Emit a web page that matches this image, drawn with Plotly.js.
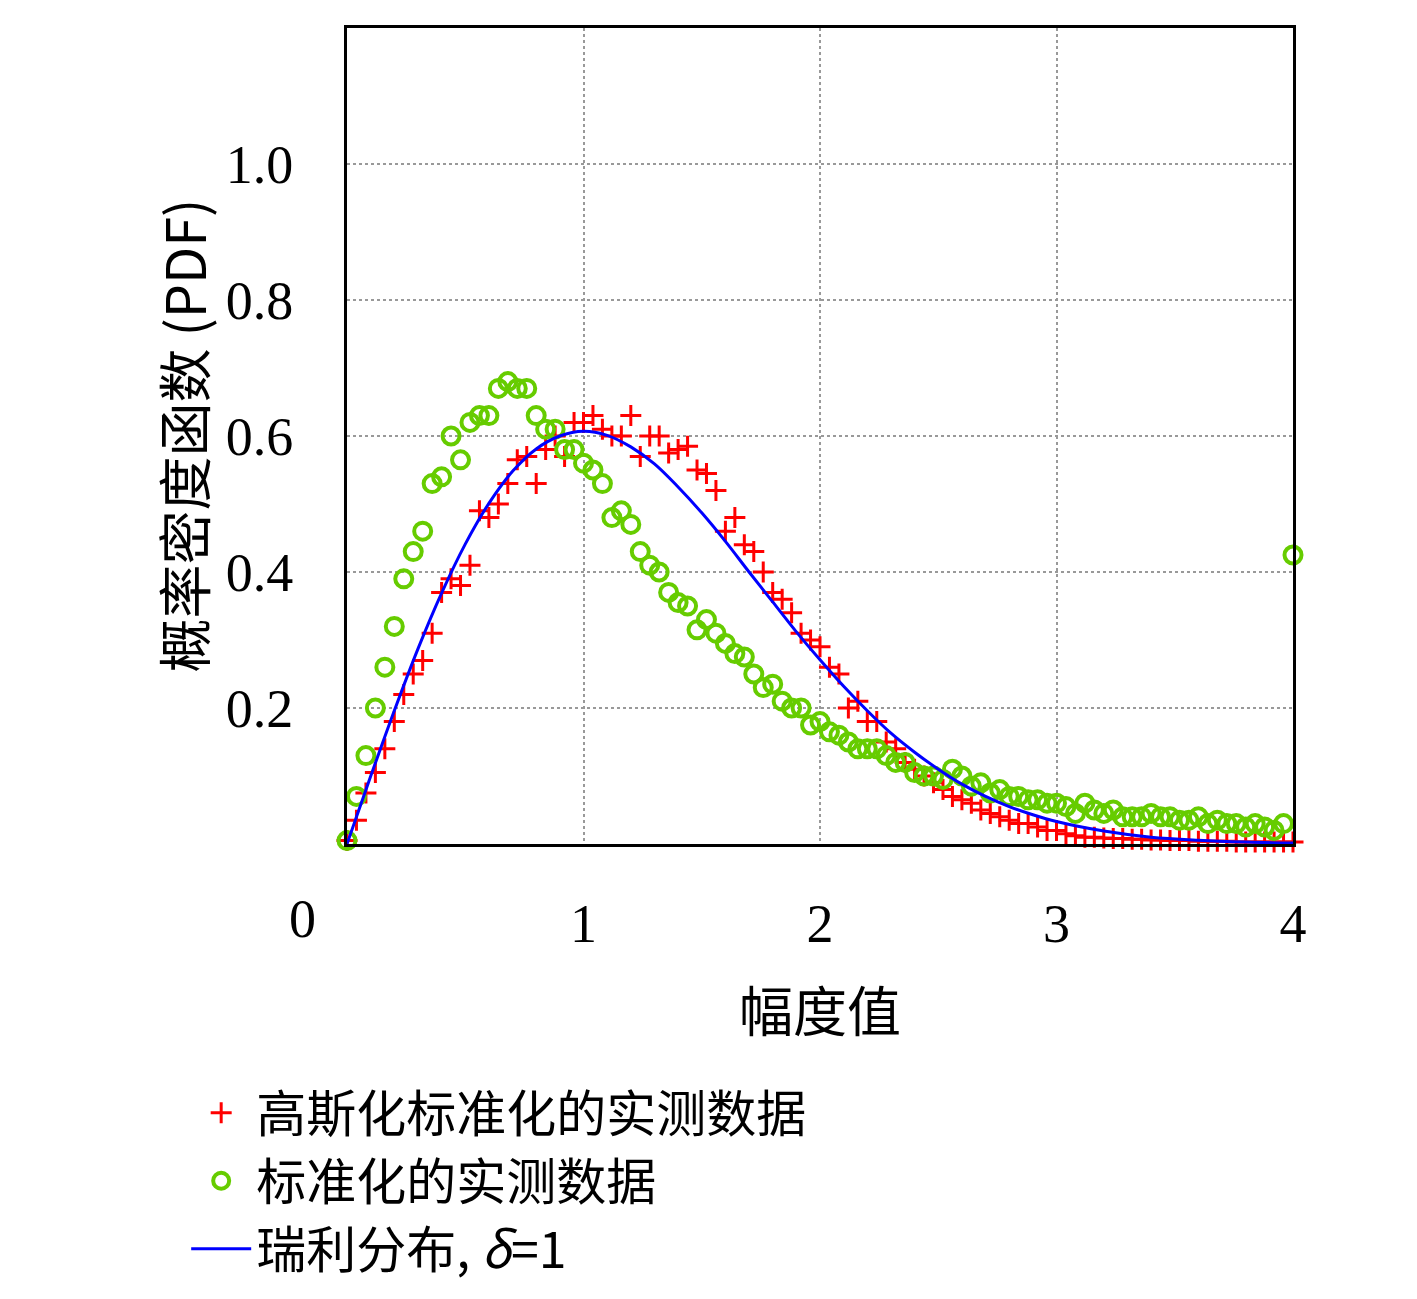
<!DOCTYPE html>
<html>
<head>
<meta charset="utf-8">
<script src="https://cdn.plot.ly/plotly-3.0.1.min.js"></script>
<style>body{margin:0;background:#fff}</style>
</head>
<body>
<div id="chart" style="width:1417px;height:1299px"></div>
<script>
// x values shared by both measured series (step 0.04)
var xMeas = [];
for (var i = 0; i <= 100; i++) xMeas.push(+(i * 0.04).toFixed(2));

// 高斯化标准化的实测数据
var redY = [0.005,0.035,0.075,0.105,0.14,0.18,0.22,0.25,0.27,0.31,0.37,0.39,0.38,0.41,0.49,0.48,0.5,0.53,0.565,0.57,
  0.53,0.58,0.6,0.57,0.62,0.62,0.63,0.61,0.6,0.6,0.63,0.57,0.6,0.6,0.575,0.58,0.585,0.55,0.545,0.52,
  0.46,0.48,0.44,0.43,0.4,0.37,0.36,0.34,0.31,0.3,0.29,0.26,0.25,0.2,0.21,0.18,0.18,0.15,0.14,0.12,
  0.11,0.1,0.09,0.08,0.07,0.065,0.06,0.05,0.045,0.04,0.035,0.03,0.03,0.025,0.02,0.02,0.015,0.012,0.01,0.01,
  0.009,0.008,0.008,0.007,0.007,0.006,0.006,0.005,0.005,0.005,0.004,0.004,0.004,0.004,0.003,0.003,0.003,0.003,0.003,0.003,0.003];

// 标准化的实测数据
var greenY = [0.005,0.07,0.13,0.2,0.26,0.32,0.39,0.43,0.46,0.53,0.54,0.6,0.565,0.62,0.63,0.63,0.67,0.68,0.67,0.67,
  0.63,0.61,0.61,0.58,0.58,0.56,0.55,0.53,0.48,0.49,0.47,0.43,0.41,0.40,0.37,0.355,0.35,0.315,0.33,0.31,
  0.295,0.28,0.275,0.25,0.23,0.235,0.21,0.2,0.2,0.175,0.18,0.165,0.16,0.15,0.14,0.14,0.14,0.13,0.12,0.12,
  0.105,0.1,0.1,0.095,0.11,0.1,0.085,0.09,0.075,0.08,0.07,0.07,0.065,0.065,0.06,0.06,0.055,0.045,0.06,0.05,
  0.045,0.05,0.04,0.04,0.04,0.045,0.04,0.04,0.035,0.035,0.04,0.03,0.035,0.03,0.03,0.025,0.03,0.025,0.02,0.03,0.425];

// 瑞利分布, δ=1
var rayX = [0,0.1,0.2,0.3,0.4,0.5,0.6,0.7,0.8,0.9,1.0,1.1,1.2,1.3,1.4,1.5,1.6,1.7,1.8,1.9,2.0,2.1,2.2,2.3,2.4,2.5,2.6,2.7,2.8,2.9,3.0,3.2,3.4,3.6,3.8,4.0];
var rayY = [0,0.0995,0.196,0.287,0.369,0.441,0.501,0.548,0.581,0.600,0.607,0.601,0.584,0.559,0.525,0.487,0.445,0.400,0.356,0.312,0.271,0.232,0.196,0.163,0.135,0.110,0.088,0.070,0.055,0.043,0.033,0.019,0.010,0.0055,0.0028,0.0013];

var serif = 'Liberation Serif, Noto Sans CJK SC, serif';
var cjk = 'Noto Sans CJK SC, Liberation Serif, serif';

var traces = [
  {x: xMeas, y: redY, mode: 'markers', name: '高斯化标准化的实测数据', cliponaxis: false,
   marker: {symbol: 'cross-thin', size: 15, line: {color: '#ff0000', width: 3}}},
  {x: xMeas, y: greenY, mode: 'markers', name: '标准化的实测数据', cliponaxis: false,
   marker: {symbol: 'circle-open', size: 17, color: '#66cc00', line: {color: '#66cc00', width: 4}}},
  {x: rayX, y: rayY, mode: 'lines', name: '瑞利分布, <i>δ</i>=1', line: {color: '#0000ff', width: 3, shape: 'spline'}}
];

var layout = {
  width: 1417, height: 1299,
  margin: {l: 347, r: 124, t: 28, b: 454},
  paper_bgcolor: '#fff', plot_bgcolor: '#fff',
  font: {family: serif, color: '#000', size: 52},
  xaxis: {range: [0, 4], tickvals: [1, 2, 3, 4], showline: true, mirror: true, linecolor: '#000', linewidth: 3,
    showgrid: true, gridcolor: '#999', griddash: 'dot', gridwidth: 1.5, zeroline: false,
    ticks: '', ticklabelstandoff: 30, tickfont: {family: serif, size: 54}},
  yaxis: {range: [0, 1.2], tickvals: [0.2, 0.4, 0.6, 0.8, 1.0, 1.2], ticktext: ['0.2','0.4','0.6','0.8','1.0','1.2'],
    showline: true, mirror: true, linecolor: '#000', linewidth: 3,
    showgrid: true, gridcolor: '#999', griddash: 'dot', gridwidth: 1.5, zeroline: false,
    ticks: '', ticklabelstandoff: 40, tickfont: {family: serif, size: 54}},
  showlegend: true,
  legend: {x: -0.17, y: -0.28, xanchor: 'left', yanchor: 'top', font: {family: cjk, size: 50},
    tracegroupgap: 0, itemwidth: 60, bgcolor: 'rgba(0,0,0,0)'},
  annotations: [
    {text: '0', xref: 'paper', yref: 'paper', x: (287 - 347) / 946, y: -75 / 817, showarrow: false,
     yanchor: 'middle', font: {family: serif, size: 54}},
    {text: '幅度值', xref: 'paper', yref: 'paper', x: 0.5, y: -165 / 817, showarrow: false,
     yanchor: 'middle', font: {family: cjk, size: 54}},
    {text: '概率密度函数 (PDF)', xref: 'paper', yref: 'paper', x: (140 - 347) / 946, y: 0.5, textangle: -90,
     showarrow: false, font: {family: cjk, size: 54}}
  ]
};

Plotly.newPlot('chart', traces, layout, {displayModeBar: false});
</script>
</body>
</html>
